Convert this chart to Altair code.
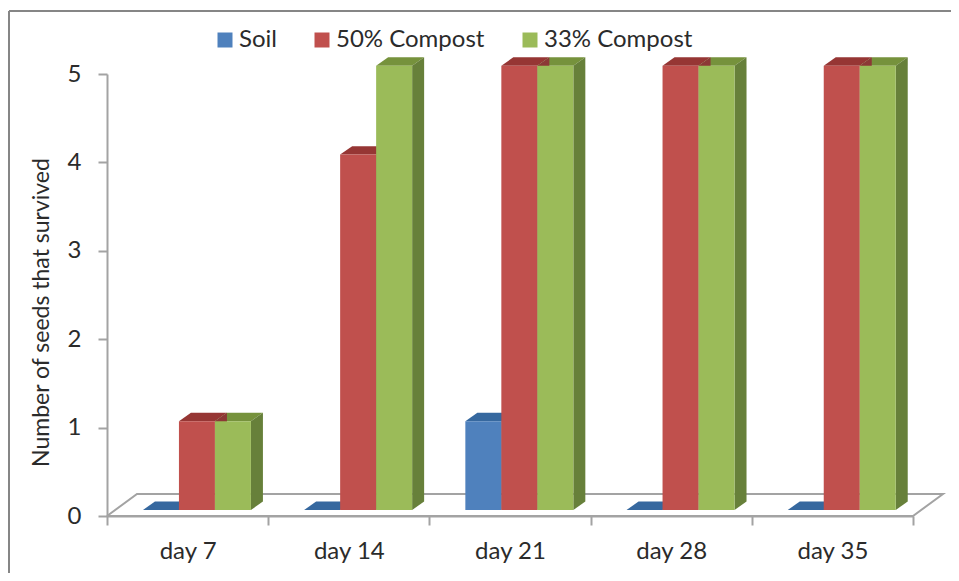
import altair as alt
import pandas as pd

days = ["day 7", "day 14", "day 21", "day 28", "day 35"]
series = ["Soil", "50% Compost", "33% Compost"]
soil = [0, 0, 1, 0, 0]
compost50 = [1, 4, 5, 5, 5]
compost33 = [1, 5, 5, 5, 5]
front_colors = ["#4F81BD", "#C0504D", "#9BBB59"]
top_colors = ["#36689F", "#963634", "#76923C"]
side_colors = ["#3A6591", "#8C3836", "#67803A"]

START, WIDTH = 0.223, 0.2233      # bar layout inside a category
BASE, SLOPE = 0.068, 1.005        # floor offset and projected height
DX, DY = 0.0744, 0.096            # bar depth
FLOOR_DX, FLOOR_DY = 0.186, 0.249 # floor depth
FONT = "Lato"
INK = "#2b2b2b"
GRAY = "#a3a3a3"

fronts, tops, sides = [], [], []
for s, (name, vals) in enumerate(zip(series, [soil, compost50, compost33])):
    for d, v in enumerate(vals):
        x0 = d + START + s * WIDTH
        x1 = x0 + WIDTH
        y0 = BASE
        y1 = BASE + v * SLOPE
        fronts.append(dict(series=name, x=x0, x2=x1, y=y0, y2=y1))
        for xx, lo, hi in [
            (x0, y1, y1), (x0 + DX, y1, y1 + DY),
            (x1, y1, y1 + DY), (x1 + DX, y1 + DY, y1 + DY),
        ]:
            tops.append(dict(face=f"top-{s}-{d}", px=xx, lo=lo, hi=hi, shade=f"t{s}"))
        for xx, lo, hi in [(x1, y0, y1), (x1 + DX, y0 + DY, y1 + DY)]:
            sides.append(dict(face=f"side-{s}-{d}", px=xx, lo=lo, hi=hi, shade=f"s{s}"))

n = len(days)
floor = pd.DataFrame([
    dict(i=0, x=0, y=0), dict(i=1, x=FLOOR_DX, y=FLOOR_DY),
    dict(i=2, x=n + FLOOR_DX, y=FLOOR_DY), dict(i=3, x=n, y=0), dict(i=4, x=0, y=0),
])

xs = alt.Scale(domain=[0, n], nice=False, zero=False)
ys = alt.Scale(domain=[0, 5], nice=False, zero=False)
names = "[" + ",".join(f"'{d}'" for d in days) + "]"

x_axis = alt.Axis(
    values=list(range(n + 1)), title=None, grid=False,
    domainColor=GRAY, domainWidth=2, tickColor=GRAY, tickWidth=2, tickSize=9,
    labelExpr=f"datum.value < {n} ? {names}[datum.value] : ''",
    labelOffset=80.6, labelPadding=14, labelFont=FONT, labelFontSize=24,
    labelColor=INK, labelFlush=False, labelBound=False, labelOverlap=False,
    labelAngle=0)
y_axis = alt.Axis(
    values=[0, 1, 2, 3, 4, 5], format="d", grid=False,
    title="Number of seeds that survived", titleFont=FONT, titleFontSize=23,
    titleFontWeight="normal", titleColor=INK, titleX=-54, titleY=238, titleAngle=270,
    domainColor=GRAY, domainWidth=2, tickColor=GRAY, tickWidth=2, tickSize=9,
    labelFont=FONT, labelFontSize=24, labelColor=INK, labelPadding=17)

frame_left = alt.Chart(pd.DataFrame({"a": [0]})).mark_rule(color="#868686", strokeWidth=2).encode(
    x=alt.value(-98), y=alt.value(-63), y2=alt.value(520))
frame_top = alt.Chart(pd.DataFrame({"a": [0]})).mark_rule(color="#868686", strokeWidth=2).encode(
    y=alt.value(-63), x=alt.value(-98), x2=alt.value(860))

floor_line = alt.Chart(floor).mark_line(color=GRAY, strokeWidth=2).encode(
    x=alt.X("x:Q", scale=xs, axis=x_axis),
    y=alt.Y("y:Q", scale=ys, axis=y_axis),
    order=alt.Order("i:Q"),
)

shades = [f"t{s}" for s in range(3)] + [f"s{s}" for s in range(3)]
shade_scale = alt.Scale(domain=shades, range=top_colors + side_colors)

depth = alt.Chart(pd.DataFrame(tops + sides)).mark_area(interpolate="linear").encode(
    x=alt.X("px:Q", scale=xs, axis=x_axis),
    y=alt.Y("lo:Q", scale=ys, axis=y_axis),
    y2="hi:Q",
    detail="face:N",
    color=alt.Color("shade:N", scale=shade_scale, legend=None),
)

front = alt.Chart(pd.DataFrame(fronts)).mark_rect().encode(
    x=alt.X("x:Q", scale=xs, axis=x_axis),
    x2="x2:Q",
    y=alt.Y("y:Q", scale=ys, axis=y_axis),
    y2="y2:Q",
    color=alt.Color("series:N", scale=alt.Scale(domain=series, range=front_colors),
        legend=alt.Legend(
            title=None, orient="none", direction="horizontal", legendX=106, legendY=-46,
            symbolType="square", symbolSize=225, symbolStrokeWidth=0, symbolOpacity=1,
            labelFont=FONT, labelFontSize=24, labelColor=INK, labelOffset=2,
            columnPadding=33, padding=0)),
)

chart = alt.layer(frame_left, frame_top, floor_line, depth, front).resolve_scale(
    color="independent"
).properties(
    width=806, height=442,
    padding={"left": 99, "top": 66, "right": 38, "bottom": 57},
    autosize=alt.AutoSizeParams(type="none"),
    background="white",
).configure_view(stroke=None)

chart.save("out.html", embed_options={"renderer": "svg", "actions": False})
